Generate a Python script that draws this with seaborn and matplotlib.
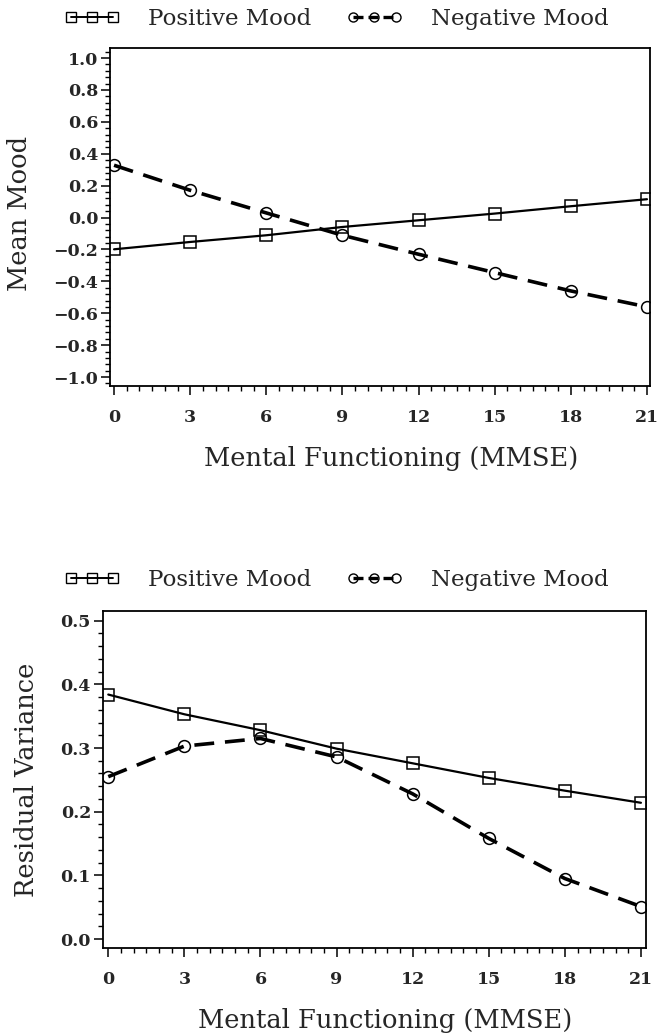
import numpy as np
import pandas as pd
import matplotlib
matplotlib.use("Agg")
import matplotlib.pyplot as plt
from matplotlib.lines import Line2D
from matplotlib.ticker import MultipleLocator
import seaborn as sns

# --- Data ---
mmse = [0, 3, 6, 9, 12, 15, 18, 21]

mean_pos = [-0.199, -0.153, -0.111, -0.059, -0.017, 0.025, 0.071, 0.115]
mean_neg = [0.328, 0.171, 0.029, -0.111, -0.230, -0.345, -0.460, -0.560]

resvar_pos = [0.384, 0.353, 0.328, 0.299, 0.276, 0.253, 0.233, 0.214]
resvar_neg = [0.255, 0.303, 0.315, 0.286, 0.228, 0.158, 0.095, 0.051]

series_labels = ["Positive Mood", "Negative Mood"]
x_label = "Mental Functioning (MMSE)"

# --- Style ---
sns.set_style("ticks")
plt.rcParams["font.family"] = ["DejaVu Serif"]

W, H = 657, 1036
fig = plt.figure(figsize=(W / 100, H / 100), dpi=100)


def px_axes(left, top, right, bottom):
    return fig.add_axes([left / W, 1 - bottom / H, (right - left) / W, (bottom - top) / H])


ax1 = px_axes(110, 48, 650, 386)
ax2 = px_axes(102.7, 610.7, 646, 948.3)

POS_KW = dict(color="black", marker="s", markersize=8.5, markerfacecolor="none",
              markeredgecolor="black", markeredgewidth=1.1, linewidth=1.6,
              linestyle="-")
NEG_KW = dict(color="black", marker="o", markersize=8.5, markerfacecolor="none",
              markeredgecolor="black", markeredgewidth=1.1, linewidth=2.6,
              dashes=(5.5, 3))


def draw_panel(ax, pos, neg, ylabel, ylim, xlim, ymajor, yminor, ylab_xy):
    df = pd.DataFrame({"x": mmse, "pos": pos, "neg": neg})
    sns.lineplot(data=df, x="x", y="neg", ax=ax, **NEG_KW)
    sns.lineplot(data=df, x="x", y="pos", ax=ax, **POS_KW)

    ax.set_xlim(*xlim)
    ax.set_ylim(*ylim)
    ax.xaxis.set_major_locator(MultipleLocator(3))
    ax.xaxis.set_minor_locator(MultipleLocator(0.5))
    ax.yaxis.set_major_locator(MultipleLocator(ymajor))
    ax.yaxis.set_minor_locator(MultipleLocator(yminor))
    ax.yaxis.set_major_formatter(
        plt.FuncFormatter(lambda v, p: "{:.1f}".format(0.0 if abs(v) < 1e-9 else v).replace("-", "\u2212")))

    ax.tick_params(axis="both", which="major", direction="out", length=6.5, width=1.1,
                   labelsize=12.5, color="black")
    ax.tick_params(axis="both", which="minor", direction="out", length=3.5, width=1.0,
                   color="black")
    ax.tick_params(axis="x", which="major", pad=10)
    ax.tick_params(axis="y", which="major", pad=2)
    for lab in ax.get_xticklabels() + ax.get_yticklabels():
        lab.set_fontweight("bold")

    for sp in ax.spines.values():
        sp.set_visible(True)
        sp.set_linewidth(1.3)
        sp.set_color("black")

    ax.set_xlabel(x_label, fontsize=18.5)
    ax.set_ylabel(ylabel, fontsize=18.5)
    ax.xaxis.set_label_coords(0.52, -0.178)
    ax.yaxis.set_label_coords(*ylab_xy)
    ax.grid(False)


draw_panel(ax1, mean_pos, mean_neg, "Mean Mood", (-1.056, 1.063), (-0.16, 21.12),
           0.2, 0.04, (-0.144, 0.51))
draw_panel(ax2, resvar_pos, resvar_neg, "Residual Variance", (-0.0146, 0.5157), (-0.22, 21.2),
           0.1, 0.02, (-0.117, 0.5))

# --- Legends above each panel ---
handles = [
    Line2D([0], [0], color="black", marker="s", markersize=6.5, markerfacecolor="none",
           markeredgewidth=1.0, linewidth=1.4, linestyle="-"),
    Line2D([0], [0], color="black", marker="o", markersize=6.5, markerfacecolor="none",
           markeredgewidth=1.0, linewidth=2.4, dashes=(3, 1.5)),
]
for y_px in (19, 580):
    fig.legend(handles, series_labels, loc="center left",
               bbox_to_anchor=(64 / W, 1 - y_px / H), ncol=2, frameon=False,
               numpoints=3, handlelength=2.45, handletextpad=1.22, columnspacing=1.53,
               borderpad=0, borderaxespad=0, fontsize=16.5)

fig.savefig("out.png", dpi=100)
